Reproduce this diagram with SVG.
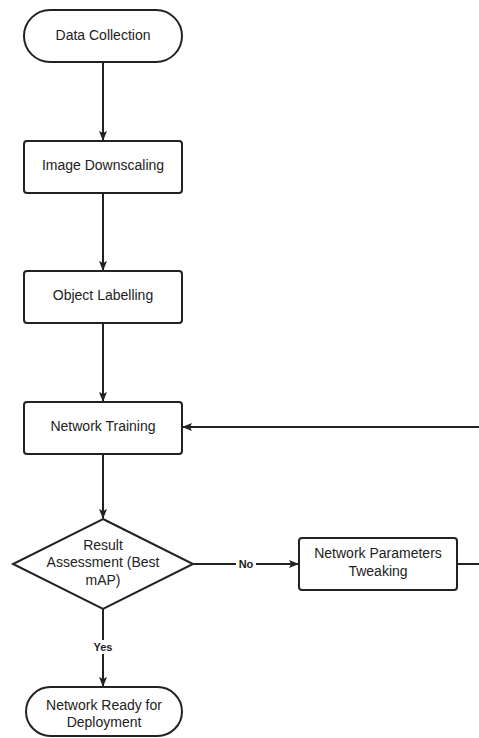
<svg xmlns="http://www.w3.org/2000/svg" width="479" height="738" viewBox="0 0 479 738">
<defs>
<marker id="ah" markerWidth="10" markerHeight="10" refX="9" refY="5" orient="auto" markerUnits="userSpaceOnUse">
<path d="M0,1 L10,5 L0,9 L2,5 Z" fill="#222"/>
</marker>
<style>
.shape{fill:#fff;stroke:#222;stroke-width:2}
.t{font-family:"Liberation Sans",Arial,sans-serif;font-size:14px;fill:#222;text-anchor:middle;dominant-baseline:central}
.lbl{font-family:"Liberation Sans",Arial,sans-serif;font-size:11px;font-weight:bold;fill:#222;text-anchor:middle;dominant-baseline:central}
.c{fill:none;stroke:#222;stroke-width:2}
</style>
</defs>
<rect width="479" height="738" fill="#fff"/>
<g id="connectors">
<line class="c" x1="103" y1="62" x2="103" y2="140" marker-end="url(#ah)"/>
<line class="c" x1="103" y1="193" x2="103" y2="270" marker-end="url(#ah)"/>
<line class="c" x1="103" y1="323" x2="103" y2="401" marker-end="url(#ah)"/>
<line class="c" x1="103" y1="454" x2="103" y2="518" marker-end="url(#ah)"/>
<line class="c" x1="193" y1="564" x2="298" y2="564" marker-end="url(#ah)"/>
<line class="c" x1="103" y1="609" x2="103" y2="686" marker-end="url(#ah)"/>
<line class="c" x1="457" y1="564" x2="479" y2="564"/>
<line class="c" x1="479" y1="427" x2="183" y2="427" marker-end="url(#ah)"/>
<rect x="236" y="557" width="20" height="14" fill="#fff"/>
<text class="lbl" x="246" y="564">No</text>
<rect x="91" y="640" width="24" height="14" fill="#fff"/>
<text class="lbl" x="103" y="647">Yes</text>
</g>
<g id="data-collection">
<rect class="shape" x="24" y="10" width="158" height="52" rx="26"/>
<text class="t" x="103" y="35">Data Collection</text>
</g>
<g id="image-downscaling">
<rect class="shape" x="24" y="141" width="158" height="52" rx="3"/>
<text class="t" x="103" y="165">Image Downscaling</text>
</g>
<g id="object-labelling">
<rect class="shape" x="24" y="271" width="158" height="52" rx="3"/>
<text class="t" x="103" y="295">Object Labelling</text>
</g>
<g id="network-training">
<rect class="shape" x="24" y="402" width="158" height="52" rx="3"/>
<text class="t" x="103" y="426">Network Training</text>
</g>
<g id="result-assessment">
<polygon class="shape" points="103,519 193,564 103,609 13,564"/>
<text class="t" x="103" y="545">Result</text>
<text class="t" x="103" y="562">Assessment (Best</text>
<text class="t" x="103" y="580">mAP)</text>
</g>
<g id="network-parameters-tweaking">
<rect class="shape" x="299" y="538" width="158" height="52" rx="3"/>
<text class="t" x="378" y="553">Network Parameters</text>
<text class="t" x="378" y="571">Tweaking</text>
</g>
<g id="network-ready">
<rect class="shape" x="26" y="687" width="156" height="49" rx="24.5"/>
<text class="t" x="104" y="705">Network Ready for</text>
<text class="t" x="104" y="722">Deployment</text>
</g>
</svg>
